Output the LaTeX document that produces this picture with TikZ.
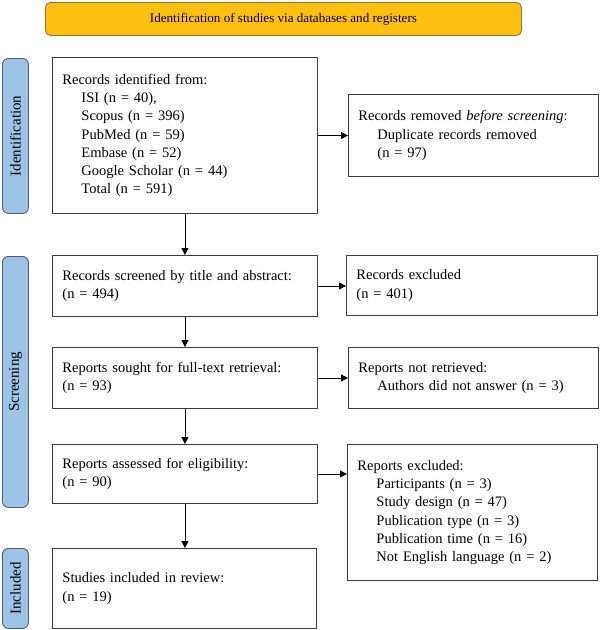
\documentclass[tikz,border=0pt]{standalone}
\usepackage{fontspec}
\setmainfont{Liberation Serif}
\usetikzlibrary{arrows.meta}
\definecolor{bannerfill}{RGB}{253,192,16}
\definecolor{bannerline}{RGB}{150,115,40}
\definecolor{sidefill}{RGB}{157,195,230}
\definecolor{sideline}{RGB}{75,95,125}
\definecolor{boxline}{RGB}{60,60,60}
\newcommand{\ind}{\hspace*{19pt}}
\begin{document}
\begin{tikzpicture}[x=1pt,y=-1pt,
  txt/.style={font=\fontsize{14.5}{18.2}\selectfont},
  flowbox/.style={txt,draw=boxline,line width=0.9pt,anchor=north west,align=left,inner xsep=10pt,inner ysep=0pt},
  sidelabel/.style={draw=sideline,fill=sidefill,line width=0.9pt,rounded corners=6pt,anchor=north west,minimum width=26pt,inner sep=0pt},
  sidetext/.style={font=\fontsize{15}{18}\selectfont,rotate=90},
  banner/.style={draw=bannerline,fill=bannerfill,line width=0.9pt,rounded corners=5pt,anchor=north west,inner sep=0pt,font=\fontsize{13.1}{15}\selectfont},
  arr/.style={line width=0.8pt,-{Triangle[length=7pt,width=7pt]}}
]
\useasboundingbox (0,0) rectangle (600,630);
\node[banner,minimum width=476pt,minimum height=33pt] (ban) at (45,2) {Identification of studies via databases and registers};

\node[sidelabel,minimum height=155pt] (sid) at (2,58) {};
\node[sidetext] (tid) at (sid.center) {Identification};
\node[sidelabel,minimum height=251pt] (ssc) at (2,256) {};
\node[sidetext] (tsc) at (ssc.center) {Screening};
\node[sidelabel,minimum height=80pt] (sin) at (2,548) {};
\node[sidetext] (tin) at (sin.center) {Included};

\node[flowbox,text width=245pt,minimum height=156pt] (b1) at (52,57) {Records identified from:\\
\ind ISI (n = 40),\\
\ind Scopus (n = 396)\\
\ind PubMed (n = 59)\\
\ind Embase (n = 52)\\
\ind Google Scholar (n = 44)\\
\ind Total (n = 591)};

\node[flowbox,text width=230pt,minimum height=82pt] (r1) at (348,94) {Records removed \textit{before screening}:\\
\ind Duplicate records removed\\
\ind (n = 97)};

\node[flowbox,text width=245pt,minimum height=61pt] (b2) at (52,255) {Records screened by title and abstract:\\(n = 494)};
\node[flowbox,text width=231pt,minimum height=60pt] (r2) at (346,255) {Records excluded\\(n = 401)};

\node[flowbox,text width=245pt,minimum height=61pt] (b3) at (52,347) {Reports sought for full-text retrieval:\\(n = 93)};
\node[flowbox,text width=230pt,minimum height=61pt] (r3) at (348,347) {Reports not retrieved:\\\ind Authors did not answer (n = 3)};

\node[flowbox,text width=245pt,minimum height=59pt] (b4) at (52,444) {Reports assessed for eligibility:\\(n = 90)};
\node[flowbox,text width=230pt,minimum height=136pt] (r4) at (347,444) {Reports excluded:\\
\ind Participants (n = 3)\\
\ind Study design (n = 47)\\
\ind Publication type (n = 3)\\
\ind Publication time (n = 16)\\
\ind Not English language (n = 2)};

\node[flowbox,text width=244pt,minimum height=80pt] (b5) at (52,548) {Studies included in review:\\(n = 19)};

\draw[arr] (b1.south) -- (b2.north);
\draw[arr] (b2.south) -- (b3.north);
\draw[arr] (b3.south) -- (b4.north);
\draw[arr] (b4.south) -- (b4.south |- b5.north);
\draw[arr] (b1.east |- r1.west) -- (r1.west);
\draw[arr] (b2.east) -- (b2.east -| r2.west);
\draw[arr] (b3.east) -- (b3.east -| r3.west);
\draw[arr] (b4.east) -- (b4.east -| r4.west);
\end{tikzpicture}
\end{document}
